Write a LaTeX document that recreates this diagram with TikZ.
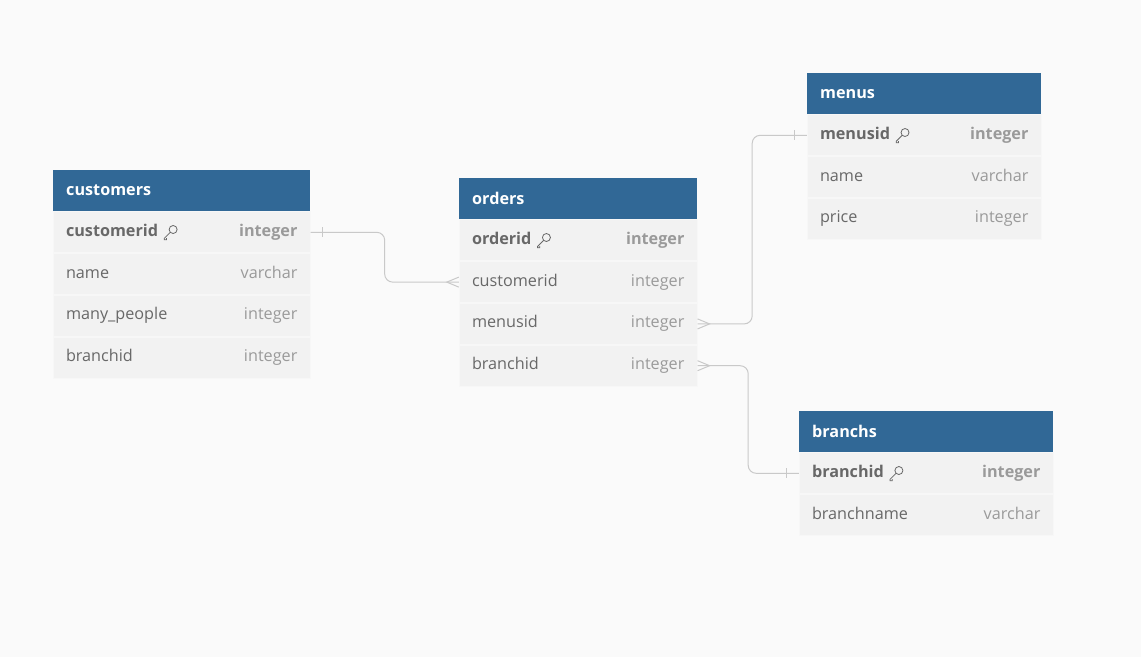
\documentclass[tikz,border=0pt]{standalone}
\usepackage{fontspec}
\setmainfont{Open Sans}
\usetikzlibrary{positioning,calc}

\definecolor{bggray}{HTML}{FAFAFA}
\definecolor{hdrblue}{HTML}{316896}
\definecolor{rowgray}{HTML}{F2F2F2}
\definecolor{rowline}{HTML}{F7F7F7}
\definecolor{namegray}{HTML}{686868}
\definecolor{typegray}{HTML}{9A9A9A}
\definecolor{linkgray}{HTML}{C9C9C9}

\begin{document}
\begin{tikzpicture}[
  x=1pt, y=-1pt,
  hdr/.style={rectangle, anchor=north west, fill=hdrblue, text=white,
              font=\fontsize{16.2}{19}\selectfont\bfseries, align=left,
              inner xsep=13pt, inner ysep=0pt, minimum height=41pt},
  row/.style={rectangle, fill=rowgray, draw=rowline, line width=0.8pt,
              inner sep=0pt, minimum height=41pt},
  fname/.style={inner sep=0pt, text height=12pt, text depth=4pt,
                text=namegray, font=\fontsize{16.2}{19}\selectfont},
  kname/.style={fname, font=\fontsize{16.2}{19}\selectfont\bfseries},
  ftype/.style={fname, text=typegray},
  ktype/.style={kname, text=typegray},
  rel/.style={draw=linkgray, line width=1pt, rounded corners=8pt},
  endmark/.style={draw=linkgray, line width=1pt},
  keyicon/.pic={
    \draw[namegray, line width=0.8pt] (2.8,-2.8) circle (4pt);
    \draw[namegray, line width=0.8pt] (0,0) -- (-6,6) -- (-6,7.5) -- (-3.8,7.5) -- (-3.8,5.8);
  },
]

% canvas
\fill[bggray] (0,0) rectangle (1141,657);

% customers
\node[hdr, text width=231pt] (C) at (53,170) {customers};
\node[row, minimum width=257pt, below=0pt of C]  (C1) {};
\node[row, minimum width=257pt, below=0pt of C1] (C2) {};
\node[row, minimum width=257pt, below=0pt of C2] (C3) {};
\node[row, minimum width=257pt, below=0pt of C3] (C4) {};
\node[kname, right=13pt of C1.west] (C1n) {customerid};
\pic at ([xshift=12pt]C1n.east) {keyicon};
\node[ktype, left=13pt of C1.east] {integer};
\node[fname, right=13pt of C2.west] {name};
\node[ftype, left=13pt of C2.east] {varchar};
\node[fname, right=13pt of C3.west] {many\_people};
\node[ftype, left=13pt of C3.east] {integer};
\node[fname, right=13pt of C4.west] {branchid};
\node[ftype, left=13pt of C4.east] {integer};

% orders
\node[hdr, text width=212pt] (O) at (459,178) {orders};
\node[row, minimum width=238pt, below=0pt of O]  (O1) {};
\node[row, minimum width=238pt, below=0pt of O1] (O2) {};
\node[row, minimum width=238pt, below=0pt of O2] (O3) {};
\node[row, minimum width=238pt, below=0pt of O3] (O4) {};
\node[kname, right=13pt of O1.west] (O1n) {orderid};
\pic at ([xshift=12pt]O1n.east) {keyicon};
\node[ktype, left=13pt of O1.east] {integer};
\node[fname, right=13pt of O2.west] {customerid};
\node[ftype, left=13pt of O2.east] {integer};
\node[fname, right=13pt of O3.west] {menusid};
\node[ftype, left=13pt of O3.east] {integer};
\node[fname, right=13pt of O4.west] {branchid};
\node[ftype, left=13pt of O4.east] {integer};

% menus
\node[hdr, text width=208pt] (M) at (807,73) {menus};
\node[row, minimum width=234pt, below=0pt of M]  (M1) {};
\node[row, minimum width=234pt, below=0pt of M1] (M2) {};
\node[row, minimum width=234pt, below=0pt of M2] (M3) {};
\node[kname, right=13pt of M1.west] (M1n) {menusid};
\pic at ([xshift=12pt]M1n.east) {keyicon};
\node[ktype, left=13pt of M1.east] {integer};
\node[fname, right=13pt of M2.west] {name};
\node[ftype, left=13pt of M2.east] {varchar};
\node[fname, right=13pt of M3.west] {price};
\node[ftype, left=13pt of M3.east] {integer};

% branchs
\node[hdr, text width=228pt] (B) at (799,411) {branchs};
\node[row, minimum width=254pt, below=0pt of B]  (B1) {};
\node[row, minimum width=254pt, below=0pt of B1] (B2) {};
\node[kname, right=13pt of B1.west] (B1n) {branchid};
\pic at ([xshift=12pt]B1n.east) {keyicon};
\node[ktype, left=13pt of B1.east] {integer};
\node[fname, right=13pt of B2.west] {branchname};
\node[ftype, left=13pt of B2.east] {varchar};

% customers.customerid -< orders.customerid
\draw[rel] (C1.east) -| ($(C1.east)!.5!(O2.west)$) |- (O2.west);
\draw[endmark] ([xshift=12pt,yshift=5pt]C1.east) -- ([xshift=12pt,yshift=-5pt]C1.east);
\draw[endmark] ([yshift=5pt]O2.west) -- ([xshift=-12pt]O2.west) -- ([yshift=-5pt]O2.west);

% orders.menusid >- menus.menusid
\draw[rel] (O3.east) -| ($(O3.east)!.5!(M1.west)$) |- (M1.west);
\draw[endmark] ([yshift=5pt]O3.east) -- ([xshift=12pt]O3.east) -- ([yshift=-5pt]O3.east);
\draw[endmark] ([xshift=-12pt,yshift=5pt]M1.west) -- ([xshift=-12pt,yshift=-5pt]M1.west);

% orders.branchid >- branchs.branchid
\draw[rel] (O4.east) -| ($(O4.east)!.5!(B1.west)$) |- (B1.west);
\draw[endmark] ([yshift=5pt]O4.east) -- ([xshift=12pt]O4.east) -- ([yshift=-5pt]O4.east);
\draw[endmark] ([xshift=-12pt,yshift=5pt]B1.west) -- ([xshift=-12pt,yshift=-5pt]B1.west);

\end{tikzpicture}
\end{document}
